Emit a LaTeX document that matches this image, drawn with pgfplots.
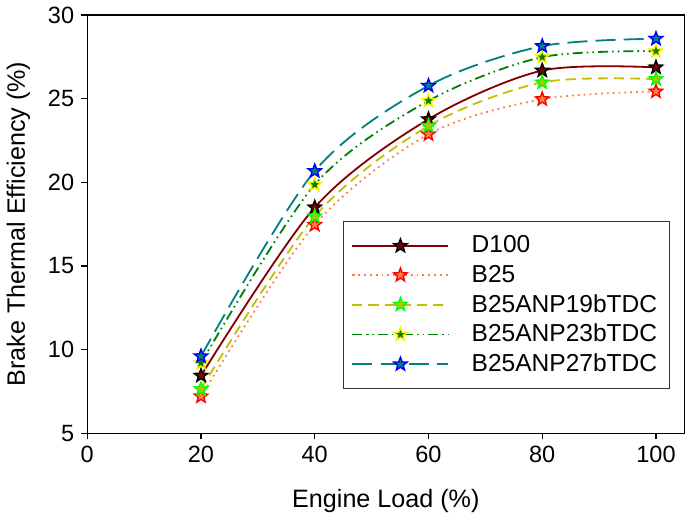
\documentclass[border=0pt]{standalone}
\usepackage{fontspec}
\setmainfont{Liberation Sans}
\usepackage{pgfplots}
\pgfplotsset{compat=1.18}
\definecolor{cDR}{RGB}{128,0,0}
\definecolor{cOr}{RGB}{255,128,64}
\definecolor{cYl}{RGB}{192,192,0}
\definecolor{cDG}{RGB}{0,128,0}
\definecolor{cTl}{RGB}{0,128,128}
\pgfdeclareplotmark{fstar}{%
  \pgfpathmoveto{\pgfpointpolar{90}{\pgfplotmarksize}}%
  \pgfpathlineto{\pgfpointpolar{126}{0.42\pgfplotmarksize}}%
  \pgfpathlineto{\pgfpointpolar{162}{\pgfplotmarksize}}%
  \pgfpathlineto{\pgfpointpolar{198}{0.42\pgfplotmarksize}}%
  \pgfpathlineto{\pgfpointpolar{234}{\pgfplotmarksize}}%
  \pgfpathlineto{\pgfpointpolar{270}{0.42\pgfplotmarksize}}%
  \pgfpathlineto{\pgfpointpolar{306}{\pgfplotmarksize}}%
  \pgfpathlineto{\pgfpointpolar{342}{0.42\pgfplotmarksize}}%
  \pgfpathlineto{\pgfpointpolar{18}{\pgfplotmarksize}}%
  \pgfpathlineto{\pgfpointpolar{54}{0.42\pgfplotmarksize}}%
  \pgfpathclose
  \pgfusepathqfillstroke}
\begin{document}
\begin{tikzpicture}
\begin{axis}[
  scale only axis,
  width=297pt, height=208pt,
  xmin=0, xmax=105, ymin=5, ymax=30,
  xtick={0,20,40,60,80,100},
  ytick={5,10,15,20,25,30},
  tick align=outside, tick pos=left,
  major tick length=3pt,
  axis line style={black, line width=0.6pt},
  every tick/.style={black, line width=0.6pt},
  /pgf/number format/assume math mode=true,
  tick label style={font=\fontsize{11.7}{13}\selectfont},
  label style={font=\fontsize{12.5}{14}\selectfont},
  xlabel={Engine Load (\%)},
  ylabel={Brake Thermal Efficiency (\%)},
  xlabel style={yshift=-6pt},
  ylabel style={yshift=2pt},
  legend style={at={(0.428,0.507)}, anchor=north west, draw=black!80, line width=0.6pt,
    font=\fontsize{12.2}{14}\selectfont, inner xsep=4pt, inner ysep=5pt,
    row sep=0.5pt, legend cell align=left, nodes={inner xsep=2pt}},
  legend image code/.code={
    \draw[mark repeat=2,mark phase=2] plot coordinates {(0cm,0cm) (0.84cm,0cm) (1.68cm,0cm)};
    \path (2.0cm,0cm);},
  every axis plot/.append style={line width=0.9pt, smooth, mark=fstar, mark size=3.5pt},
]
\addplot[cDR, mark options={solid, line width=0.7pt, draw=black, fill=cDR}] coordinates {(20,8.44) (40,18.5) (60,23.77) (80,26.68) (100,26.87)};
\addlegendentry{D100}
\addplot[cOr, dotted, mark options={solid, line width=0.7pt, draw=red, fill=cOr}] coordinates {(20,7.2) (40,17.46) (60,22.87) (80,24.97) (100,25.43)};
\addlegendentry{B25}
\addplot[cYl, dash pattern=on 5pt off 3pt, mark options={solid, line width=0.7pt, draw=green, fill=cYl}] coordinates {(20,7.64) (40,17.96) (60,23.37) (80,25.97) (100,26.17)};
\addlegendentry{B25ANP19bTDC}
\addplot[cDG, dash pattern=on 5pt off 2pt on 0.8pt off 2pt on 0.8pt off 2pt, mark options={solid, line width=0.7pt, draw=yellow, fill=cDG}] coordinates {(20,9.19) (40,19.86) (60,24.87) (80,27.48) (100,27.84)};
\addlegendentry{B25ANP23bTDC}
\addplot[cTl, dash pattern=on 10pt off 4pt, mark options={solid, line width=0.7pt, draw=blue, fill=cTl}] coordinates {(20,9.6) (40,20.67) (60,25.77) (80,28.14) (100,28.58)};
\addlegendentry{B25ANP27bTDC}
\end{axis}
\end{tikzpicture}
\end{document}
